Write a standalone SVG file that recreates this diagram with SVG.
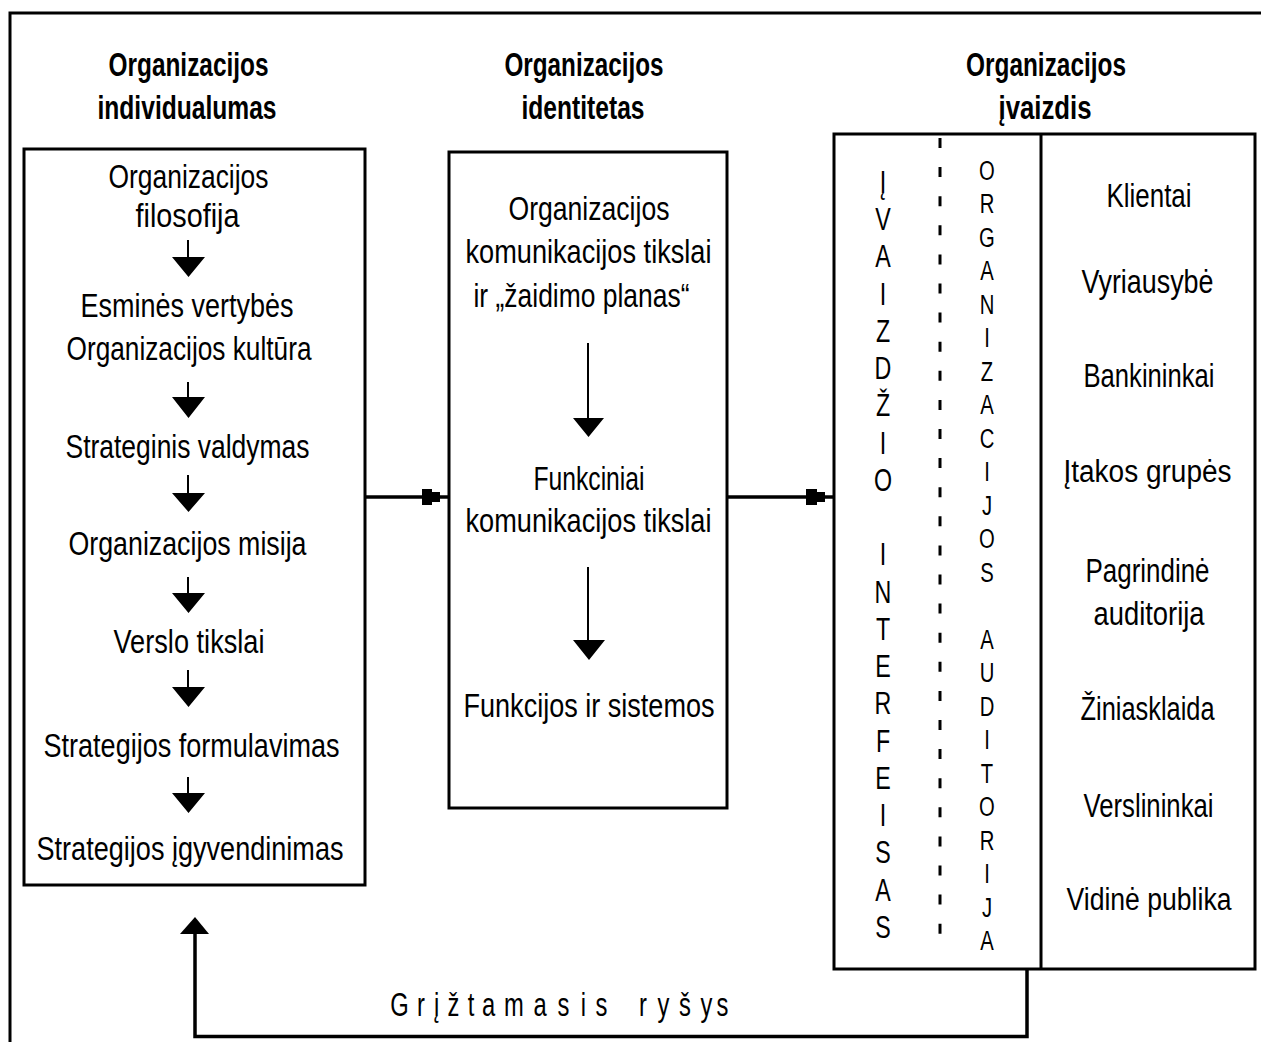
<svg xmlns="http://www.w3.org/2000/svg" width="1261" height="1042" viewBox="0 0 1261 1042">
<style>
.t{font-family:"Liberation Sans",Arial,sans-serif;font-size:34px;text-anchor:middle;fill:#000}
.s{font-size:31px}
.h{font-weight:bold;font-size:33px}
.v1{font-family:"Liberation Sans",Arial,sans-serif;font-size:31px;text-anchor:middle;fill:#000}
.v2{font-family:"Liberation Sans",Arial,sans-serif;font-size:27px;text-anchor:middle;fill:#000}
.fb{font-family:"Liberation Sans",Arial,sans-serif;font-size:33px;text-anchor:middle;fill:#000}
.box{fill:#fff;stroke:#000;stroke-width:3}
.ln{fill:none;stroke:#000;stroke-width:3.5}
.thin{fill:none;stroke:#000;stroke-width:2}
.tri{fill:#000}
</style>
<rect width="1261" height="1042" fill="#fff"/>
<path d="M10,1042 V13 H1261" fill="none" stroke="#000" stroke-width="3"/>

<g id="headers">
<text class="t h" x="188.5" y="76" textLength="160" lengthAdjust="spacingAndGlyphs">Organizacijos</text>
<text class="t h" x="187" y="119" textLength="179" lengthAdjust="spacingAndGlyphs">individualumas</text>
<text class="t h" x="584" y="76" textLength="159" lengthAdjust="spacingAndGlyphs">Organizacijos</text>
<text class="t h" x="583" y="119" textLength="123" lengthAdjust="spacingAndGlyphs">identitetas</text>
<text class="t h" x="1046" y="76" textLength="160" lengthAdjust="spacingAndGlyphs">Organizacijos</text>
<text class="t h" x="1045" y="119" textLength="93" lengthAdjust="spacingAndGlyphs">įvaizdis</text>
</g>

<g id="node-individualumas">
<rect class="box" x="24" y="149" width="341" height="736"/>
<text class="t" x="188.5" y="188" textLength="160" lengthAdjust="spacingAndGlyphs">Organizacijos</text>
<text class="t" x="187.5" y="227" textLength="104" lengthAdjust="spacingAndGlyphs">filosofija</text>
<text class="t" x="187" y="317" textLength="213" lengthAdjust="spacingAndGlyphs">Esminės vertybės</text>
<text class="t" x="189" y="360" textLength="245" lengthAdjust="spacingAndGlyphs">Organizacijos kultūra</text>
<text class="t" x="187.5" y="458" textLength="244" lengthAdjust="spacingAndGlyphs">Strateginis valdymas</text>
<text class="t" x="187.5" y="555" textLength="238" lengthAdjust="spacingAndGlyphs">Organizacijos misija</text>
<text class="t" x="189" y="653" textLength="151" lengthAdjust="spacingAndGlyphs">Verslo tikslai</text>
<text class="t" x="191.5" y="757" textLength="296" lengthAdjust="spacingAndGlyphs">Strategijos formulavimas</text>
<text class="t" x="190" y="860" textLength="307" lengthAdjust="spacingAndGlyphs">Strategijos įgyvendinimas</text>
<path class="thin" d="M188,240 V258 M188,382 V398 M188,475 V494 M188,577 V594 M188,670 V688 M188,777 V794"/>
<path class="tri" d="M172,257 H205 L188.5,277 Z M172,397 H205 L188.5,418 Z M172,493 H205 L188.5,512 Z M172,593 H205 L188.5,613 Z M172,687 H205 L188.5,707 Z M172,793 H205 L188.5,813 Z"/>
</g>

<g id="node-identitetas">
<rect class="box" x="449" y="152" width="278" height="656"/>
<text class="t" x="589" y="220" textLength="161" lengthAdjust="spacingAndGlyphs">Organizacijos</text>
<text class="t" x="588.5" y="263" textLength="246" lengthAdjust="spacingAndGlyphs">komunikacijos tikslai</text>
<text class="t" x="581.5" y="307" textLength="216" lengthAdjust="spacingAndGlyphs">ir „žaidimo planas“</text>
<text class="t" x="589" y="490" textLength="111" lengthAdjust="spacingAndGlyphs">Funkciniai</text>
<text class="t" x="588.5" y="532" textLength="246" lengthAdjust="spacingAndGlyphs">komunikacijos tikslai</text>
<text class="t" x="589" y="717" textLength="251" lengthAdjust="spacingAndGlyphs">Funkcijos ir sistemos</text>
<path class="thin" d="M588,343 V419 M588,567 V641"/>
<path class="tri" d="M573,418 H604 L588.5,437 Z M573,640 H605 L589,660 Z"/>
</g>

<g id="node-ivaizdis">
<rect class="box" x="834" y="134" width="421" height="835"/>
<line x1="1041" y1="134" x2="1041" y2="969" stroke="#000" stroke-width="3"/>
<line x1="940" y1="138" x2="940" y2="948" stroke="#000" stroke-width="3" stroke-dasharray="10 19.1"/>
<g transform="translate(883,0) scale(0.75,1)">
<text class="v1"><tspan x="0" y="193">Į</tspan><tspan x="0" y="230.25">V</tspan><tspan x="0" y="267.5">A</tspan><tspan x="0" y="304.75">I</tspan><tspan x="0" y="342">Z</tspan><tspan x="0" y="379.25">D</tspan><tspan x="0" y="416.5">Ž</tspan><tspan x="0" y="453.75">I</tspan><tspan x="0" y="491">O</tspan><tspan x="0" y="565.5">I</tspan><tspan x="0" y="602.75">N</tspan><tspan x="0" y="640">T</tspan><tspan x="0" y="677.25">E</tspan><tspan x="0" y="714.5">R</tspan><tspan x="0" y="751.75">F</tspan><tspan x="0" y="789">E</tspan><tspan x="0" y="826.25">I</tspan><tspan x="0" y="863.5">S</tspan><tspan x="0" y="900.75">A</tspan><tspan x="0" y="938">S</tspan></text>
</g>
<g transform="translate(987,0) scale(0.75,1)">
<text class="v2"><tspan x="0" y="180">O</tspan><tspan x="0" y="213.5">R</tspan><tspan x="0" y="247">G</tspan><tspan x="0" y="280.5">A</tspan><tspan x="0" y="314">N</tspan><tspan x="0" y="347.5">I</tspan><tspan x="0" y="381">Z</tspan><tspan x="0" y="414.5">A</tspan><tspan x="0" y="448">C</tspan><tspan x="0" y="481.5">I</tspan><tspan x="0" y="515">J</tspan><tspan x="0" y="548.5">O</tspan><tspan x="0" y="582">S</tspan><tspan x="0" y="649">A</tspan><tspan x="0" y="682.5">U</tspan><tspan x="0" y="716">D</tspan><tspan x="0" y="749.5">I</tspan><tspan x="0" y="783">T</tspan><tspan x="0" y="816.5">O</tspan><tspan x="0" y="850">R</tspan><tspan x="0" y="883.5">I</tspan><tspan x="0" y="917">J</tspan><tspan x="0" y="950.5">A</tspan></text>
</g>
<text class="t" x="1149" y="207" textLength="85" lengthAdjust="spacingAndGlyphs">Klientai</text>
<text class="t" x="1147.5" y="293" textLength="132" lengthAdjust="spacingAndGlyphs">Vyriausybė</text>
<text class="t" x="1149" y="387" textLength="131" lengthAdjust="spacingAndGlyphs">Bankininkai</text>
<text class="t s" x="1147.5" y="482" textLength="168" lengthAdjust="spacingAndGlyphs">Įtakos grupės</text>
<text class="t" x="1147.5" y="582" textLength="124" lengthAdjust="spacingAndGlyphs">Pagrindinė</text>
<text class="t" x="1149" y="625" textLength="111" lengthAdjust="spacingAndGlyphs">auditorija</text>
<text class="t" x="1147.5" y="720" textLength="134" lengthAdjust="spacingAndGlyphs">Žiniasklaida</text>
<text class="t" x="1148.5" y="817" textLength="130" lengthAdjust="spacingAndGlyphs">Verslininkai</text>
<text class="t s" x="1149" y="910" textLength="165" lengthAdjust="spacingAndGlyphs">Vidinė publika</text>
</g>

<g id="connectors">
<line class="ln" x1="365" y1="497" x2="449" y2="497"/>
<path class="tri" d="M422,489 H432 V492 H440 V502 H432 V505 H422 Z"/>
<line class="ln" x1="727" y1="497" x2="834" y2="497"/>
<path class="tri" d="M806,489 H817 V492 H825 V502 H817 V505 H806 Z"/>
<path class="ln" d="M1027,969 V1036.5 H195 V932"/>
<path class="tri" d="M180,934 H209 L195,917 Z"/>
<g transform="scale(0.72,1)">
<text class="fb" x="554.9 584.7 606.3 629.9 654.2 678.5 713.9 750 782.6 810.4 835.4 865.3 893.1 921.5 951.4 981.3 1003.5" y="1016">Grįžtamasis ryšys</text>
</g>
</g>
</svg>
